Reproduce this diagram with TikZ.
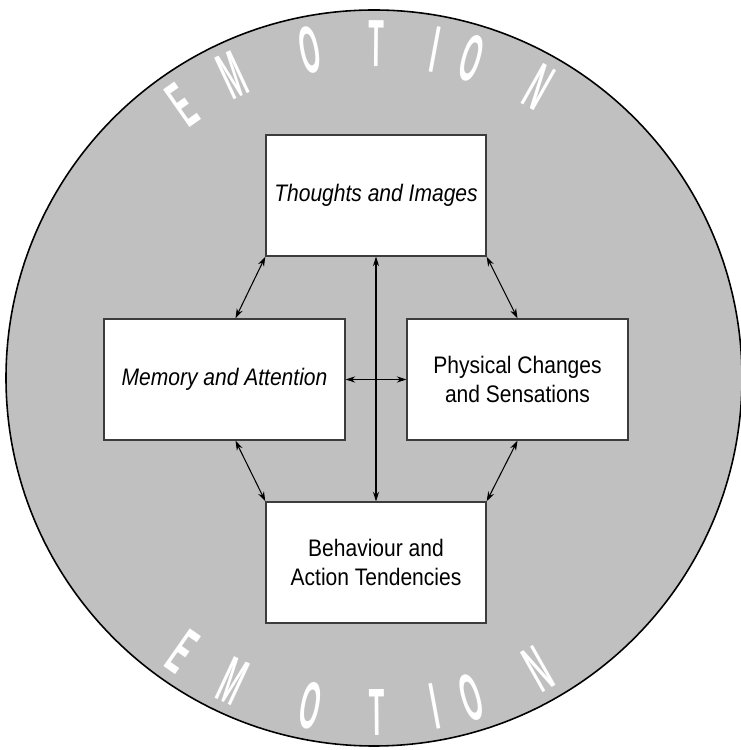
\documentclass[tikz,border=0pt]{standalone}
\usepackage{fontspec}
\setmainfont{Liberation Sans}
\newfontfamily\boxfont[FakeStretch=0.88]{Liberation Sans}
\newfontfamily\emofont[FakeStretch=0.38]{Liberation Sans Bold}
\usetikzlibrary{arrows.meta, calc}
\definecolor{discgray}{RGB}{192,192,192}
\definecolor{edgegray}{RGB}{60,60,60}

\begin{document}
\begin{tikzpicture}[x=0.02cm, y=0.02cm,
  box/.style={draw=edgegray, line width=0.8pt, fill=white, inner sep=0pt,
    minimum height=2.42cm, align=center, font=\boxfont\fontsize{13.6}{16}\selectfont},
  arr/.style={{Stealth[length=5.5pt,width=3.6pt]}-{Stealth[length=5.5pt,width=3.6pt]},
    line width=0.6pt},
  letter/.style={text=white, inner sep=0pt, font=\emofont\fontsize{38}{38}\selectfont}]
  \useasboundingbox (0,0) rectangle (740,750);
  \coordinate (c) at (374,372);
  \draw[fill=discgray, line width=0.9pt] (c) circle (368);

  % the four boxes
  \node[box, minimum width=4.4cm] (thoughts) at (376,554.5) {\itshape Thoughts and Images};
  \node[box, minimum width=4.82cm] (memory) at (224.5,370.5) {\itshape Memory and Attention};
  \node[box, minimum width=4.42cm] (physical) at (517.5,370.5) {Physical Changes\\and Sensations};
  \node[box, minimum width=4.4cm] (behaviour) at (376,187.5) {Behaviour and\\Action Tendencies};

  \draw[arr] (thoughts.south west) -- ($(memory.north)+(11,0)$);
  \draw[arr] (thoughts.south east) -- (physical.north);
  \draw[arr] ($(memory.south)+(11,0)$) -- (behaviour.north west);
  \draw[arr] (physical.south) -- (behaviour.north east);
  \draw[arr] (thoughts.south) -- (behaviour.north);
  \draw[arr] (memory.east) -- (physical.west);

  % EMOTION round the rim, top and bottom
  \foreach \ang/\ch [count=\i] in {125/E,115/M,101/O,89.5/T,79.5/I,73/O,60.5/N}{
    \node[letter, rotate=\ang-90] (top\i) at ($(c)+(\ang:334)$) {\ch};
    \node[letter, rotate=-\ang+90] (bot\i) at ($(c)+(-\ang:334)$) {\ch};
  }
\end{tikzpicture}
\end{document}
